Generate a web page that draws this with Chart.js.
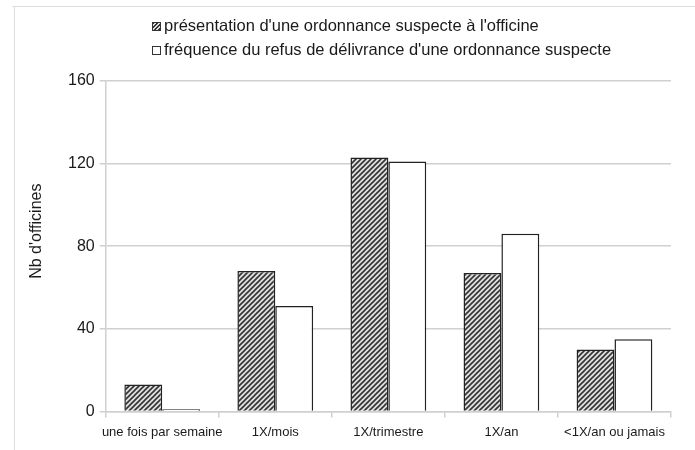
<!DOCTYPE html>
<html>
<head>
<meta charset="utf-8">
<script src="https://cdn.jsdelivr.net/npm/chart.js@4.4.1/dist/chart.umd.min.js"></script>
<style>
  html, body { margin: 0; padding: 0; background: #fff; }
  #cadre { position: relative; width: 695px; height: 450px; }
  #graf { position: absolute; left: 0; top: 0; }
  .legende { position: absolute; left: 152px; font: 16.5px/20px "Liberation Sans", Arial, sans-serif; color: #1a1a1a; white-space: nowrap; }
  .legende span.boite { display: inline-block; width: 7px; height: 7px; border: 1px solid #333; margin-right: 3px; vertical-align: 0px; }
</style>
</head>
<body>
<div id="cadre">
  <canvas id="graf" width="695" height="450"></canvas>
  <div class="legende" id="leg0" style="top:15px"></div>
  <div class="legende" id="leg1" style="top:39px"></div>
</div>
<script>
const categories = ['une fois par semaine', '1X/mois', '1X/trimestre', '1X/an', '<1X/an ou jamais']
const presentation = [13, 68, 123, 67, 30]
const refus = [1, 51, 121, 86, 35]
const nomsSeries = ["présentation d'une ordonnance suspecte à l'officine", "fréquence du refus de délivrance d'une ordonnance suspecte"]
const ticksY = [0, 40, 80, 120, 160]
const titreY = "Nb d'officines"

const POLICE = '"Liberation Sans", Arial, sans-serif'
const GRIS = '#d0d0d0'

function motifHachure() {
  const c = document.createElement('canvas')
  c.width = 5; c.height = 5
  const g = c.getContext('2d')
  g.fillStyle = '#e0e0e0'
  g.fillRect(0, 0, 5, 5)
  g.strokeStyle = '#333'
  g.lineWidth = 1.6
  g.beginPath()
  g.moveTo(-1, 6); g.lineTo(6, -1)
  g.moveTo(-1, 1); g.lineTo(1, -1)
  g.moveTo(4, 6); g.lineTo(6, 4)
  g.stroke()
  return g.createPattern(c, 'repeat')
}

// petit cadre gris autour de l'image + titre de l'axe Y (un peu au-dessus du centre, comme l'original)
const cadreGris = {
  id: 'cadreGris',
  beforeDraw(chart) {
    const ctx = chart.ctx
    ctx.save()
    ctx.strokeStyle = '#dcdcdc'
    ctx.lineWidth = 1
    ctx.beginPath()
    ctx.moveTo(12, 6.5); ctx.lineTo(700, 6.5)
    ctx.moveTo(14.5, 6); ctx.lineTo(14.5, 460)
    ctx.stroke()
    ctx.restore()
  },
  afterDraw(chart) {
    const ctx = chart.ctx
    const area = chart.chartArea
    ctx.save()
    ctx.translate(37, (area.top + area.bottom) / 2 - 15)
    ctx.rotate(-Math.PI / 2)
    ctx.fillStyle = '#1a1a1a'
    ctx.font = '16px ' + POLICE
    ctx.textAlign = 'center'
    ctx.textBaseline = 'middle'
    ctx.fillText(titreY, 0, 0)
    ctx.restore()
  }
}

const hachure = motifHachure()

const chart = new Chart(document.getElementById('graf').getContext('2d'), {
  type: 'bar',
  data: {
    labels: categories,
    datasets: [
      {
        label: nomsSeries[0],
        data: presentation,
        backgroundColor: hachure,
        borderColor: '#222',
        borderWidth: 1.5,
        categoryPercentage: 0.67,
        barPercentage: 1
      },
      {
        label: nomsSeries[1],
        data: refus,
        backgroundColor: '#fff',
        borderColor: '#222',
        borderWidth: 1.5,
        categoryPercentage: 0.67,
        barPercentage: 1
      }
    ]
  },
  options: {
    responsive: false,
    animation: false,
    layout: { padding: { left: 63, right: 24, top: 81, bottom: 3 } },
    plugins: {
      legend: { display: false },
      tooltip: { enabled: false }
    },
    scales: {
      x: {
        grid: {
          offset: true,
          color: (c) => c.index === categories.length ? GRIS : 'transparent',
          tickColor: GRIS,
          tickLength: 6,
          lineWidth: 1.5
        },
        border: { color: GRIS, width: 1.5 },
        ticks: { color: '#1a1a1a', font: { family: POLICE, size: 13 }, padding: 7, maxRotation: 0, autoSkip: false }
      },
      y: {
        min: 0,
        max: 160,
        afterBuildTicks: (axe) => { axe.ticks = ticksY.map(v => ({ value: v })) },
        grid: { color: GRIS, tickColor: GRIS, tickLength: 6, lineWidth: 1.5 },
        border: { color: GRIS, width: 1.5 },
        ticks: { color: '#1a1a1a', font: { family: POLICE, size: 16 }, padding: 5 }
      }
    }
  },
  plugins: [cadreGris]
})

// légende en HTML, avec les mêmes noms que les séries
const leg0 = document.getElementById('leg0')
const leg1 = document.getElementById('leg1')
leg0.innerHTML = '<span class="boite" style="background:repeating-linear-gradient(-45deg,#333 0 1.5px,#ddd 1.5px 3px)"></span>'
leg0.appendChild(document.createTextNode(chart.data.datasets[0].label))
leg1.innerHTML = '<span class="boite" style="background:#fff"></span>'
leg1.appendChild(document.createTextNode(chart.data.datasets[1].label))
</script>
</body>
</html>
